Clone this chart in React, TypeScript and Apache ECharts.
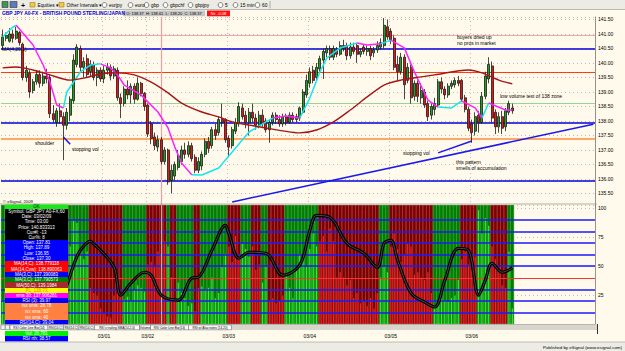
import React, { useEffect, useRef } from 'react';
import * as echarts from 'echarts';

const TOTAL_SLOTS = 176;
const dayStartIdx = [30, 43, 67, 91, 115, 139];
const dayLabels = ['03/01', '03/02', '03/03', '03/04', '03/05', '03/06'];

const opens = [
  140.6, 140.85, 140.75, 141.0, 140.85, 141.05, 140.65, 139.5, 139.65, 139.05,
  139.35, 139.6, 139.3, 139.55, 139.5, 138.25, 137.95, 138.35, 138.15, 137.85,
  138.2, 138.7, 139.95, 140.5, 139.85, 140.15, 139.7, 139.95, 139.5, 139.75,
  139.45, 139.75, 139.85, 139.55, 139.75, 138.8, 138.6, 139.1, 138.9, 139.2,
  138.75, 139.3, 138.95, 138.55, 137.9, 137.45, 137.1, 137.35, 136.6, 137.0,
  135.95, 136.1, 136.4, 136.6, 137.0, 136.85, 137.15, 136.75, 136.3, 136.45,
  136.85, 137.3, 137.15, 137.7, 137.6, 138.05, 138.05, 137.4, 137.15, 137.65,
  137.9, 138.45, 138.2, 137.95, 138.3, 138.1, 137.85, 138.2, 138.0, 137.7,
  137.95, 138.2, 138.05, 137.9, 138.15, 137.95, 138.2, 138.05, 138.1, 138.3,
  138.9, 139.3, 139.75, 139.5, 139.8, 140.1, 140.35, 140.5, 140.2, 140.45,
  140.3, 140.6, 140.6, 140.25, 140.55, 140.6, 140.3, 140.55, 140.4, 140.5,
  140.35, 140.45, 140.55, 140.6, 141.25, 141.1, 140.85, 139.95, 139.7, 140.2,
  139.4, 139.85, 138.85, 139.3, 138.8, 139.0, 138.6, 138.2, 138.4, 138.55,
  139.35, 139.1, 138.9, 139.2, 139.25, 139.4, 139.4, 138.8, 138.4, 137.9,
  137.65, 138.2, 137.95, 138.85, 139.45, 139.9, 138.3, 137.8, 138.15, 137.8,
  138.3, 138.45,
];
const closes = [
  140.9, 140.95, 141.0, 140.85, 141.1, 140.7, 139.5, 139.75, 139.0, 139.35,
  139.6, 139.3, 139.55, 139.45, 138.25, 138.05, 138.35, 138.15, 137.85, 138.3,
  138.75, 140.1, 140.55, 139.85, 140.05, 139.6, 139.95, 139.5, 139.75, 139.45,
  139.75, 139.85, 139.55, 139.8, 138.8, 138.6, 139.1, 138.9, 139.2, 138.75,
  139.3, 138.95, 138.5, 137.55, 137.4, 137.15, 137.35, 136.6, 137.0, 135.9,
  136.3, 136.5, 136.8, 137.0, 136.85, 137.15, 136.7, 136.3, 136.6, 136.85,
  137.3, 137.05, 137.7, 137.5, 138.05, 137.95, 137.35, 137.1, 137.7, 137.95,
  138.5, 138.15, 137.95, 138.3, 138.1, 137.85, 138.2, 137.9, 137.7, 137.95,
  138.2, 138.05, 137.9, 138.15, 137.95, 138.2, 138.05, 138.15, 138.45, 139.0,
  139.4, 139.7, 139.4, 139.85, 140.15, 140.4, 140.5, 140.2, 140.5, 140.3,
  140.6, 140.5, 140.25, 140.55, 140.4, 140.3, 140.4, 140.4, 140.5, 140.25,
  140.45, 140.6, 140.7, 141.3, 140.9, 140.8, 139.85, 139.7, 140.2, 139.25,
  139.85, 138.8, 139.3, 138.85, 139.05, 138.55, 138.15, 138.5, 138.6, 139.35,
  139.1, 138.9, 139.2, 139.3, 139.4, 139.3, 138.75, 138.4, 137.75, 137.6,
  138.15, 137.95, 138.85, 139.55, 139.95, 138.1, 137.8, 138.15, 137.75, 138.35,
  138.6, 138.35,
];
const lows = [
  140.5, 140.75, 140.7, 140.7, 140.8, 140.6, 139.4, 139.35, 138.8, 138.95,
  139.25, 139.15, 139.2, 139.3, 138.1, 137.95, 137.8, 137.9, 136.65, 137.7,
  138.0, 138.6, 139.85, 139.7, 139.5, 139.5, 139.55, 139.4, 139.2, 139.35,
  139.3, 139.6, 139.4, 139.45, 138.7, 138.1, 138.5, 138.75, 138.6, 138.6,
  138.7, 138.85, 138.35, 137.45, 137.2, 137.0, 136.95, 136.5, 136.5, 135.8,
  135.5, 135.95, 136.3, 136.5, 136.7, 136.75, 136.6, 136.2, 136.2, 136.3,
  136.75, 136.9, 137.05, 137.35, 137.5, 137.8, 137.25, 136.75, 137.05, 137.55,
  137.8, 138.05, 137.75, 137.5, 137.95, 137.7, 137.75, 137.8, 137.6, 137.25,
  137.85, 137.9, 137.8, 137.8, 137.85, 137.9, 137.95, 137.95, 138.0, 138.25,
  138.8, 139.15, 139.3, 139.4, 139.7, 139.45, 140.2, 140.1, 140.1, 140.2,
  140.25, 140.4, 140.1, 140.15, 140.3, 140.0, 140.2, 140.3, 140.25, 140.1,
  140.2, 140.35, 140.45, 140.5, 140.8, 140.65, 139.75, 139.4, 139.6, 138.75,
  139.3, 138.6, 138.7, 138.65, 138.6, 138.45, 138.0, 138.05, 138.2, 138.5,
  138.95, 138.75, 138.8, 139.1, 139.15, 139.2, 138.65, 138.3, 137.65, 137.25,
  137.5, 137.6, 137.9, 138.75, 139.3, 137.95, 137.55, 137.6, 137.55, 137.65,
  138.2, 138.25,
];
const highs = [
  141.15, 141.05, 141.2, 141.15, 141.25, 141.1, 140.7, 139.9, 139.75, 139.45,
  139.75, 139.75, 139.7, 139.8, 139.6, 138.55, 138.45, 138.6, 138.3, 138.45,
  138.85, 140.3, 140.65, 140.6, 140.2, 140.3, 140.1, 140.05, 139.85, 139.85,
  139.9, 140.0, 139.95, 139.9, 139.85, 138.95, 139.2, 139.4, 139.3, 139.3,
  139.5, 139.35, 139.0, 138.6, 138.0, 137.6, 137.5, 137.45, 137.1, 137.05,
  136.5, 136.6, 137.0, 137.15, 137.25, 137.3, 137.25, 136.85, 136.75, 136.95,
  137.4, 137.45, 137.8, 137.9, 138.15, 138.6, 138.1, 137.5, 137.8, 138.1,
  138.65, 138.6, 138.35, 138.45, 138.6, 138.25, 138.35, 138.4, 138.1, 138.05,
  138.3, 138.3, 138.2, 138.25, 138.25, 138.3, 138.3, 138.25, 138.5, 139.1,
  139.6, 139.85, 139.9, 140.0, 140.25, 140.5, 140.6, 140.6, 140.6, 140.55,
  140.75, 140.8, 140.7, 140.7, 140.7, 140.7, 140.5, 140.65, 140.6, 140.6,
  140.55, 140.75, 140.85, 141.55, 141.5, 141.2, 140.95, 140.25, 140.35, 140.3,
  140.0, 139.95, 139.4, 139.4, 139.3, 139.1, 138.7, 138.6, 138.8, 139.45,
  139.5, 139.2, 139.3, 139.4, 139.5, 139.55, 139.45, 138.9, 138.5, 138.05,
  138.3, 138.35, 139.0, 139.7, 140.2, 140.05, 138.4, 138.3, 138.35, 138.45,
  138.7, 138.6,
];
const volumes = [
  9000, 12000, 8000, 10000, 14000, 9000, 22000, 15000, 13000, 9000,
  8000, 11000, 7000, 9000, 20000, 16000, 12000, 10000, 25000, 14000,
  30000, 40000, 39000, 27000, 25000, 28000, 14000, 12000, 11000, 6000,
  4000, 3000, 2500, 11000, 12000, 11000, 9500, 10500, 9000, 13000,
  15000, 14000, 12500, 23000, 24000, 22000, 28000, 26800, 32000, 30000,
  18000, 9000, 16000, 12000, 10000, 7000, 8000, 5000, 14000, 14500,
  13500, 14000, 18000, 10000, 12000, 22000, 27000, 30000, 24000, 34000,
  27000, 31000, 29000, 26000, 30000, 21000, 23000, 16000, 22000, 9000,
  10000, 8000, 9000, 11000, 19000, 14000, 10000, 21000, 27000, 25000,
  22000, 29000, 35000, 30000, 32000, 34000, 28000, 37000, 32000, 18000,
  20000, 18000, 15000, 17000, 10000, 12000, 8000, 9000, 7000, 10000,
  6000, 12000, 18000, 22000, 20000, 30000, 35000, 29000, 24000, 27000,
  31000, 30000, 19000, 20000, 18000, 17000, 20000, 12000, 7000, 8000,
  10000, 9000, 8500, 10000, 11000, 17000, 25000, 28000, 23000, 21000,
  26000, 44000, 35000, 41000, 38000, 30000, 25000, 22000, 15000, 14000,
  28000, 6000,
];
// RSI colour bar state, run-length: [bar count, 'g' = green / 'r' = red]
const bandRuns: [number, string][] = [
  [2, 'g'], [8, 'r'], [5, 'g'], [5, 'r'], [6, 'g'], [10, 'r'], [7, 'g'], [6, 'r'], [1, 'g'],
  [2, 'r'], [5, 'g'], [2, 'r'], [8, 'g'], [4, 'r'], [3, 'g'], [3, 'r'], [2, 'g'], [5, 'r'],
  [10, 'g'], [18, 'r'], [3, 'g'], [13, 'r'], [8, 'g'], [5, 'r'], [4, 'g'], [5, 'r'], [2, 'g'],
];
const fastMaRising = [
  [[0, 140.9], [3, 141.24], [4, 141.3]],
  [[18, 138.45], [19, 139.0], [23, 139.69], [26, 139.93], [29, 139.97]],
  [[56, 136.15], [59, 136.14], [64, 136.38], [68, 136.93], [73, 137.62], [78, 137.97], [80, 138.1]],
  [[88, 138.1], [91, 138.79], [94, 139.69], [96, 140.17], [100, 140.52], [105, 140.69]],
  [[112, 140.66], [115, 140.79]],
  [[129, 138.48], [133, 138.45], [136, 138.69]],
  [[142, 138.1], [144, 138.62]],
];
const fastMaFalling = [
  [[4, 141.3], [9, 140.62], [12, 139.93], [14, 139.34], [16, 138.55], [18, 138.45]],
  [[29, 139.97], [32, 139.83], [34, 139.59], [36, 139.24], [41, 138.9], [43, 138.66], [46, 138.31], [49, 137.76], [51, 137.1], [53, 136.55], [56, 136.15]],
  [[80, 138.1], [84, 138.17], [88, 138.1]],
  [[105, 140.69], [108, 140.62], [112, 140.66]],
  [[115, 140.79], [119, 140.52], [122, 139.69], [124, 139.2], [126, 138.72], [129, 138.48]],
  [[136, 138.69], [140, 138.45], [142, 138.1]],
  [[144, 138.62], [149, 138.38], [151, 138.38]],
];
const slowMa = [
  [0, 139.83], [4, 139.86], [9, 139.76], [14, 139.59], [20, 139.41], [24, 139.48], [29, 139.62],
  [34, 139.66], [39, 139.59], [44, 139.34], [49, 138.97], [53, 138.62], [59, 138.31], [64, 138.14],
  [68, 137.97], [73, 137.86], [78, 137.76], [83, 137.66], [88, 137.59], [93, 137.69], [98, 137.97],
  [103, 138.38], [108, 138.83], [113, 139.24], [118, 139.41], [124, 139.52], [128, 139.59],
  [138, 139.76], [142, 139.66], [147, 139.41], [151, 139.28],
];
const rsiPoints = [
  [18, 30.0], [19, 33.6], [21, 50.9], [23, 63.8], [26, 71.6], [27, 69.0], [29, 63.8], [33, 49.1],
  [35, 25.0], [38, 35.3], [42, 44.8], [44, 42.2], [47, 25.0], [52, 20.7], [56, 39.7], [58, 40.5],
  [62, 63.8], [66, 85.3], [67, 78.4], [70, 56.9], [73, 62.1], [78, 61.2], [83, 42.2], [88, 50.9],
  [91, 81.0], [93, 94.0], [97, 92.2], [102, 69.8], [107, 61.2], [111, 49.1], [113, 69.8],
  [115, 72.4], [117, 55.2], [121, 26.7], [125, 19.0], [128, 14.7], [131, 37.9], [135, 65.5],
  [138, 63.8], [141, 25.0], [143, 37.9], [145, 52.6], [148, 44.8], [151, 48.5],
];
const priceLevels = [140.94, 140.5, 139.68, 138.6, 137.95, 137.38, 135.95];
const priceLevelColors = ['#f5a3a3', '#0000dd', '#ff3b14', '#94d694', '#0000dd', '#ff8a3d', '#0000dd'];
const trendLines = [
  [[68, 135.21], [175, 137.89]],
  [[129, 136.9], [139, 137.31]],
  [[18, 137.45], [20, 137.2]],
];
const rsiBlueLevels = [10, 20, 30, 50, 60, 70, 80, 90];
const rsiRedLevels = [40];
const cursorBar = 47;
const lastMa50Label = '139.28';
const volLabel = '33';

const FONT = '"Liberation Sans", Arial, sans-serif';
const CREAM = '#fffaeb';

function txt(text: string, x: number, y: number, o: any = {}) {
  return {
    type: 'text', x, y, z: 100, silent: true,
    style: {
      text, fill: o.fill || '#000', fontSize: o.size || 5, fontFamily: FONT,
      fontWeight: o.weight || 'normal',
      textAlign: o.align || 'left', textVerticalAlign: 'middle',
      align: o.align || 'left', verticalAlign: 'middle',
    },
  };
}
function rect(x: number, y: number, w: number, h: number, fill: string, stroke?: string) {
  return { type: 'rect', z: 99, silent: true, shape: { x, y, width: w, height: h }, style: { fill, stroke: stroke || null, lineWidth: stroke ? 0.6 : 0 } };
}
function hline(x1: number, x2: number, y: number, stroke: string, w = 1) {
  return { type: 'line', z: 99, silent: true, shape: { x1, y1: y, x2, y2: y }, style: { stroke, lineWidth: w } };
}

function buildGraphics() {
  const g: any[] = [];
  // toolbar
  g.push(rect(0, 0, 625, 9.5, '#ecebe4'));
  g.push(hline(0, 625, 9.5, '#a8a8a0', 0.8));
  g.push(rect(2, 1.5, 6, 6, '#3c9a4c', '#335'));
  g.push(rect(10, 1.5, 7, 6, '#5a7fb5', '#335'));
  g.push(txt('+', 21, 5, { size: 7, weight: 'bold' }));
  g.push(rect(30, 2.5, 5, 4.5, '#f2c94c', '#a07a10'));
  g.push(txt('Equities ▾', 37.5, 5, { size: 4.8 }));
  g.push(rect(59, 2.5, 5, 4.5, '#f2c94c', '#a07a10'));
  g.push(txt('Other Intervals ▾', 66.5, 5, { size: 4.8 }));
  const buttons: [number, string][] = [[104.5, 'eurjpy'], [130.5, 'euro'], [146.5, 'gbp'], [165.5, 'gbpchf'], [190.5, 'gbpjpy'], [220.5, '5'], [235.5, '15 min'], [257.5, '60']];
  buttons.forEach(([cx, t]) => {
    g.push({ type: 'circle', z: 99, silent: true, shape: { cx, cy: 5, r: 2.4 }, style: { fill: '#fff', stroke: '#333', lineWidth: 0.6 } });
    g.push(txt(t, cx + 4.5, 5, { size: 4.8 }));
  });
  g.push({ type: 'line', z: 99, silent: true, shape: { x1: 270, y1: 1, x2: 270, y2: 8.5 }, style: { stroke: '#999', lineWidth: 0.8 } });
  // title row
  g.push(txt('GBP JPY A0-FX - BRITISH POUND STERLING/JAPAN', 2, 13.3, { fill: '#0000cc', weight: 'bold', size: 4.9 }));
  g.push(rect(123, 10.5, 82, 5.8, '#c6c6c6'));
  g.push(txt('O: 138.37  H: 138.61  L: 138.20  C: 138.37', 164, 13.4, { size: 4, align: 'center' }));
  g.push(rect(207, 10.5, 23, 5.8, '#ff1010'));
  g.push(txt('Nt: -0.08', 218.5, 13.4, { size: 4, fill: '#fff', align: 'center' }));
  // panel separator
  g.push(hline(0, 597, 204, '#9a9a9a', 0.8));
  // annotations
  g.push(txt('MA(4,20,1)', 2, 48.5, { size: 5 }));
  g.push(txt('shoulder', 35, 142.5, { size: 5 }));
  g.push(txt('stopping vol', 72, 149, { size: 5 }));
  g.push(txt('buyers dried up', 457, 36.5, { size: 5 }));
  g.push(txt('no pros in market', 457, 42.5, { size: 5 }));
  g.push(txt('low volume test of 138 zone', 500, 96, { size: 5 }));
  g.push(txt('stopping vol', 403, 152.5, { size: 5 }));
  g.push(txt('this pattern', 456, 161.5, { size: 5 }));
  g.push(txt('smells of accumulation', 456, 167.5, { size: 5 }));
  g.push(txt('© eSignal, 2009', 3, 201, { size: 4.2 }));
  // data window
  const rows: [number, number, string, string[], string][] = [
    [204.5, 4.5, '#18e818', ['OK'], '#003300'],
    [209, 31, '#000000', ['Symbol: GBP JPY A0-FX,60', 'Date: 03/02/09', 'Time: 03:00', 'Price: 140.833313', 'Cur#l: -13', 'Cur%: 8'], '#fff'],
    [240, 21, '#0000ff', ['Open: 137.81', 'High: 137.89', 'Low: 136.95', 'Close: 137.30'], '#fff'],
    [261, 11, '#ff0000', ['MA(14,C): 138.779118', 'MA(14,Cvw): 138.890063'], '#fff'],
    [272, 5, '#0000ff', ['MA(3,C): 137.390083'], '#fff'],
    [277, 5, '#008000', ['MA(3,C): 137.790573'], '#fff'],
    [282, 6, '#a52a2a', ['MA(50,C): 139.1984'], '#fff'],
    [288, 5, '#ffff00', ['PL: 138.73'], '#e09000'],
    [293, 5, '#ff00ff', ['sma 30: 137.906281'], '#fff'],
    [298, 5, '#0000ff', ['RSI (3): 39.97'], '#fff'],
    [303, 17, '#ff8040', ['rsx sma: 28.78', 'rsx sma: 60', 'rsx sma: 40'], '#fff'],
    [320, 4.5, '#0000ff', ['RSI(14,C): 39.04'], '#fff'],
    [331, 5, '#00ee00', ['Vol: 26,781'], '#fff'],
    [336, 5.5, '#0000ff', ['RSI rth: 38.57'], '#fff'],
  ];
  rows.forEach(([y, h, bg, lines, col]) => {
    g.push(rect(5, y, 63, h, bg));
    lines.forEach((l, k) => g.push(txt(l, 36.5, y + ((k + 0.5) * h) / lines.length, { fill: col, size: 4.5, align: 'center' })));
  });
  // tab bar
  g.push(rect(0, 324.5, 597, 5.5, '#d8d5cc'));
  g.push(rect(1, 325, 4, 4.5, '#f4f4f4', '#888'));
  g.push(rect(5.5, 325, 4, 4.5, '#f4f4f4', '#888'));
  const tabs: [number, number, string][] = [
    [10, 38, 'RSI Color Line Bar(14)'], [48, 15.5, 'RSI(14,C)'], [63.5, 15.5, 'RSI(14,C)'], [79, 15.5, 'RSI(14,C)'],
    [94.5, 45, 'RSI x trailing SMA(14,2,0)'], [139.5, 11, 'Volume'], [150.5, 38, 'RSI Color Line Bar(14)'], [188.5, 43, 'RSI w/ Akai notes (14,20)'],
  ];
  tabs.forEach(([x, w, t]) => {
    g.push(rect(x, 325, w, 4.8, '#fbfbfb', '#777'));
    g.push(txt(t, x + w / 2, 327.4, { size: 3.1, align: 'center' }));
  });
  g.push({ type: 'line', z: 99, silent: true, shape: { x1: 597.5, y1: 324, x2: 597.5, y2: 334 }, style: { stroke: '#000', lineWidth: 0.8 } });
  // status bar
  g.push(rect(0, 342, 625, 9, '#ecebe4'));
  g.push(hline(0, 625, 342, '#b0b0a8', 0.8));
  g.push(txt('Published by eSignal (www.esignal.com)', 622, 347, { size: 4.4, align: 'right' }));
  return g;
}

function buildOption() {
  const cats = Array.from({ length: TOTAL_SLOTS }, (_, i) => String(i));
  const dateMap: Record<string, string> = {};
  dayStartIdx.forEach((d, k) => (dateMap[String(d)] = dayLabels[k]));
  const bandColors: string[] = [];
  bandRuns.forEach(([n, c]) => { for (let k = 0; k < n; k++) bandColors.push(c); });

  const candleData = opens.map((o, i) => [o, closes[i], lows[i], highs[i]]);
  const bgData = bandColors.map((c) => {
    const col = c === 'g' ? '#008000' : '#800000';
    return { value: 103, itemStyle: { color: col, borderColor: col, borderWidth: 0.6 } };
  });
  const volData = volumes.map((v, i) => ({ value: v, itemStyle: { color: bandColors[i] === 'g' ? '#30f030' : '#ff1e1e' } }));

  const noLabel = { show: false };
  const priceMarks: any[] = priceLevels.map((v, k) => ({
    yAxis: v, lineStyle: { color: priceLevelColors[k], width: k === 0 || k === 2 || k === 3 ? 1.2 : 1.6, type: 'solid' },
  }));
  trendLines.forEach((seg) => priceMarks.push([
    { coord: seg[0], lineStyle: { color: '#1a1aee', width: 1.5, type: 'solid' } },
    { coord: seg[1] },
  ]));
  priceMarks.push({ xAxis: cursorBar, lineStyle: { color: '#eba0a0', width: 1.2, type: 'solid' } });

  const rsiMarks: any[] = rsiBlueLevels.map((v) => ({ yAxis: v, lineStyle: { color: '#1a1aff', width: 1.6, type: 'solid' } }));
  rsiRedLevels.forEach((v) => rsiMarks.push({ yAxis: v, lineStyle: { color: '#ff3030', width: 1, type: 'solid' } }));
  rsiMarks.push({ xAxis: cursorBar, lineStyle: { color: '#d0a0a0', width: 1.2, type: 'solid' } });

  const boxLabel = (text: string, bg: string, dy = 0) => ({
    show: true, position: 'end', distance: 2, formatter: text, color: '#fff', backgroundColor: bg,
    fontSize: 4.8, padding: [0.5, 1.5], fontFamily: FONT, offset: [0, dy],
  });

  const series: any[] = [
    {
      type: 'line', xAxisIndex: 0, yAxisIndex: 0, data: [], z: 1, silent: true,
      markLine: { silent: true, z: 1, symbol: ['none', 'none'], label: noLabel, data: priceMarks, animation: false },
    },
    {
      type: 'candlestick', xAxisIndex: 0, yAxisIndex: 0, data: candleData, z: 3, barWidth: 2.4,
      itemStyle: { color: '#1fa31f', color0: '#f01212', borderColor: '#1a1a1a', borderColor0: '#1a1a1a', borderWidth: 0.8 },
    },
  ];
  fastMaRising.forEach((seg) => series.push({ type: 'line', xAxisIndex: 0, yAxisIndex: 0, data: seg, z: 4, symbol: 'none', lineStyle: { color: '#14e6f0', width: 1.5 } }));
  fastMaFalling.forEach((seg) => series.push({ type: 'line', xAxisIndex: 0, yAxisIndex: 0, data: seg, z: 4, symbol: 'none', lineStyle: { color: '#ff22ff', width: 1.5 } }));
  series.push({ type: 'line', xAxisIndex: 0, yAxisIndex: 0, data: slowMa, z: 4, symbol: 'none', smooth: 0.3, lineStyle: { color: '#a3161a', width: 1.4 } });
  // right side value boxes on the price scale
  series.push({
    type: 'line', xAxisIndex: 0, yAxisIndex: 0, data: [], z: 6, silent: true,
    markLine: {
      silent: true, z: 6, symbol: ['none', 'none'], animation: false,
      data: [
        { yAxis: slowMa[slowMa.length - 1][1], lineStyle: { opacity: 0 }, label: boxLabel(lastMa50Label, '#c40000') },
        { yAxis: closes[closes.length - 1], lineStyle: { opacity: 0 }, label: boxLabel(closes[closes.length - 1].toFixed(2), '#e00000') },
      ],
    },
  });
  // indicator panel
  series.push({ type: 'bar', xAxisIndex: 2, yAxisIndex: 1, data: bgData, barWidth: '100%', z: 1, silent: true });
  series.push({ type: 'bar', xAxisIndex: 1, yAxisIndex: 2, data: volData, barWidth: 1.2, z: 2, silent: true });
  series.push({
    type: 'line', xAxisIndex: 1, yAxisIndex: 1, data: [], z: 4, silent: true,
    markLine: { silent: true, z: 4, symbol: ['none', 'none'], label: noLabel, data: rsiMarks, animation: false },
  });
  series.push({ type: 'line', xAxisIndex: 1, yAxisIndex: 1, data: rsiPoints, z: 6, symbol: 'none', smooth: 0.35, lineStyle: { color: '#000', width: 3.2 } });
  series.push({ type: 'line', xAxisIndex: 1, yAxisIndex: 1, data: rsiPoints, z: 7, symbol: 'none', smooth: 0.35, lineStyle: { color: '#5c5c5c', width: 0.8 } });
  series.push({
    type: 'line', xAxisIndex: 1, yAxisIndex: 1, data: [], z: 8, silent: true,
    markLine: {
      silent: true, z: 8, symbol: ['none', 'none'], animation: false,
      data: [
        { yAxis: rsiPoints[rsiPoints.length - 1][1], lineStyle: { opacity: 0 }, label: boxLabel(rsiPoints[rsiPoints.length - 1][1].toFixed(2), '#000', 4) },
        { yAxis: 1, lineStyle: { opacity: 0 }, label: boxLabel(volLabel, '#ff2020') },
      ],
    },
  });

  const dotted = { color: '#cdb4b4', type: [1, 3] as any, width: 1 };
  const dayBoundary = new Set(dayStartIdx);

  return {
    animation: false,
    backgroundColor: CREAM,
    textStyle: { fontFamily: FONT },
    grid: [
      { left: 1, top: 17, width: 594, height: 191, show: true, backgroundColor: CREAM, borderWidth: 0 },
      { left: 1, top: 205, width: 594, height: 119, show: true, backgroundColor: CREAM, borderWidth: 0 },
    ],
    xAxis: [
      {
        type: 'category', gridIndex: 0, data: cats, boundaryGap: true,
        axisLine: { show: false }, axisTick: { show: false }, axisLabel: { show: false },
        splitLine: { show: true, interval: (i: number) => dayBoundary.has(i), lineStyle: dotted },
      },
      {
        type: 'category', gridIndex: 1, data: cats, boundaryGap: true,
        axisLine: { show: true, lineStyle: { color: '#808080', width: 0.8 } }, axisTick: { show: false },
        axisLabel: {
          show: true, interval: (i: number) => dayBoundary.has(i), formatter: (v: string) => dateMap[v] || '',
          fontSize: 5, color: '#000', margin: 9, fontFamily: FONT,
        },
        splitLine: { show: false },
      },
      { type: 'category', gridIndex: 1, data: cats, boundaryGap: true, show: false },
    ],
    yAxis: [
      {
        type: 'value', gridIndex: 0, position: 'right', min: 135, max: 141.586, interval: 0.5,
        axisLine: { show: true, lineStyle: { color: '#7a7a7a', width: 0.8 } }, axisTick: { show: false },
        axisLabel: {
          fontSize: 5, color: '#000', margin: 3, fontFamily: FONT,
          formatter: (v: number) => (v <= 135 || Math.abs(v * 2 - Math.round(v * 2)) > 1e-6 ? '' : v.toFixed(2)),
        },
        splitLine: { show: true, lineStyle: dotted },
      },
      {
        type: 'value', gridIndex: 1, position: 'right', min: 0, max: 103, interval: 25,
        axisLine: { show: true, lineStyle: { color: '#7a7a7a', width: 0.8 } }, axisTick: { show: false },
        axisLabel: { fontSize: 5, color: '#000', margin: 3, fontFamily: FONT, formatter: (v: number) => (v === 0 || v > 100 ? '' : String(v)) },
        splitLine: { show: true, lineStyle: dotted },
      },
      { type: 'value', gridIndex: 1, min: 0, max: 46000, show: false, splitLine: { show: false } },
    ],
    series,
    graphic: { elements: buildGraphics() },
  };
}

export default function App() {
  const ref = useRef<HTMLDivElement>(null);
  useEffect(() => {
    document.body.style.margin = '0';
    const chart = echarts.init(ref.current!, undefined, { renderer: 'svg' });
    chart.setOption(buildOption() as any);
    return () => chart.dispose();
  }, []);
  return <div ref={ref} style={{ width: 625, height: 351, background: CREAM }} />;
}
